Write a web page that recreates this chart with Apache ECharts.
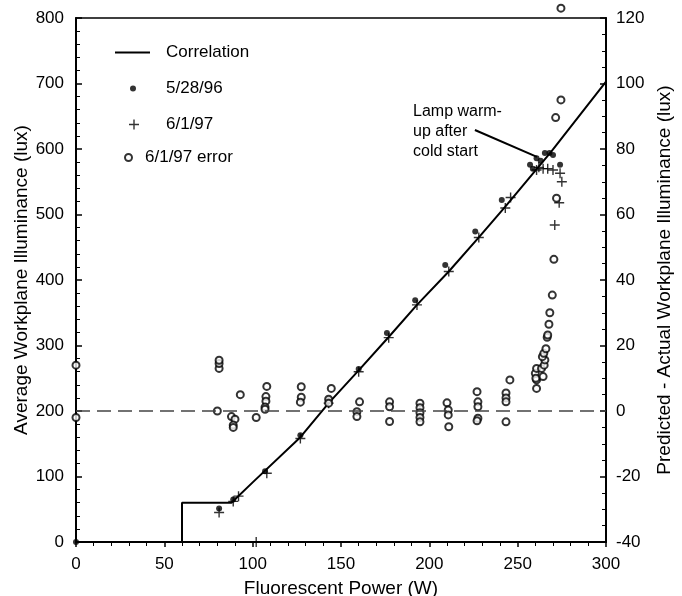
<!DOCTYPE html>
<html>
<head>
<meta charset="utf-8">
<script src="https://cdn.jsdelivr.net/npm/echarts@6/dist/echarts.min.js"></script>
<style>
  html, body { margin: 0; padding: 0; background: #fff; }
  #container { width: 682px; height: 596px; }
</style>
</head>
<body>
<div id="container"></div>
<script>
// correlation curve (W, lux)
const corrPower = [0, 60, 60, 88, 100, 127, 143, 160, 177, 193, 211, 228, 243, 269, 300];
const corrLux   = [0, 0, 60, 60, 91, 160, 212, 262, 313, 362, 413, 465, 512, 596, 703];

// 5/28/96 measurements
const dotPower = [0, 81, 89, 107, 127, 143, 160, 176, 192, 209, 226, 241, 257, 258.6, 260.7, 263, 265.4, 268, 270, 274];
const dotLux   = [0, 51, 65, 108, 163, 218, 264, 319, 369, 423, 474, 522, 576, 570, 586, 582, 594, 594, 591, 576];

// 6/1/97 measurements
const plusPower = [102, 81, 89, 92, 108, 127, 143, 160, 177, 193, 211, 228, 243, 246, 260.7, 262, 264.4, 267, 270, 274, 275, 273.5, 271];
const plusLux   = [0, 45, 62, 70, 105, 158, 212, 260, 312, 362, 413, 465, 510, 526, 568, 572, 570, 570, 568, 563, 550, 518, 484];

// 6/1/97 error (predicted - actual, lux)
const errPower = [0, 0, 80, 81, 81, 81, 88, 90, 89, 89, 93, 102,
  108, 107.5, 107.5, 107, 107, 127.5, 127.5, 127, 144.5, 143, 143,
  160.5, 159, 159, 177.5, 177.5, 177.5, 194.7, 194.7, 194.7, 194.7, 194.7,
  210, 210.7, 210.7, 211, 227, 227.5, 227.5, 227.5, 227, 243.4, 243.4, 243.4, 243.4,
  245.6, 260.7, 260.7, 260, 260.3, 260.7, 263.5, 264.4, 265, 265.4, 264, 264.8,
  266, 266.7, 267, 267.7, 268.2, 269.6, 270.5, 272, 271.5, 274.5, 274.5];
const errValue = [14, -2, 0, 13, 14.5, 15.5, -1.7, -2.5, -4.3, -5, 5, -2,
  7.5, 4.4, 3, 1.2, 0.5, 7.4, 4.2, 2.7, 6.9, 3.6, 2.4,
  2.8, -0.2, -1.7, 2.8, 1.3, -3.2, 2.4, 1, -0.5, -2, -3.3,
  2.5, 0.3, -1.2, -4.8, 5.9, 2.8, 1.3, -2.2, -3, 5.5, 4, 2.8, -3.3,
  9.5, 9.5, 6.9, 11.5, 10, 13, 13, 10.5, 14, 15.6, 16.6, 17.6,
  19, 22.5, 23.2, 26.5, 30, 35.4, 46.3, 65, 89.6, 95, 123];

const zip = (xs, ys) => xs.map((x, i) => [x, ys[i]]);

const font = '"Liberation Sans", Arial, Helvetica, sans-serif';
const plusIcon = 'path://M4.3,0H5.7V4.3H10V5.7H5.7V10H4.3V5.7H0V4.3H4.3Z';

var dom = document.getElementById('container');
var myChart = echarts.init(dom, null, { renderer: 'canvas' });

const legendText = (pad) => ({ fontSize: 17, color: '#000', fontFamily: font, padding: [0, 0, 0, pad] });

const option = {
  animation: false,
  textStyle: { fontFamily: font },
  grid: {
    left: 76, right: 76, top: 18, bottom: 54, outerBoundsMode: 'none', containLabel: false,
    show: true, borderColor: '#000', borderWidth: 1.5
  },
  legend: [
    { data: [{ name: 'Correlation', icon: 'rect' }], left: 115, top: 44, padding: 0, itemWidth: 35, itemHeight: 2, textStyle: legendText(11) },
    { data: ['5/28/96'], left: 130, top: 80, padding: 0, itemWidth: 6, itemHeight: 6, textStyle: legendText(25) },
    { data: ['6/1/97'], left: 129, top: 116, padding: 0, itemWidth: 10, itemHeight: 10, textStyle: legendText(22) },
    { data: ['6/1/97 error'], left: 124, top: 149, padding: 0, itemWidth: 7, itemHeight: 7, textStyle: legendText(8) }
  ],
  xAxis: {
    type: 'value', min: 0, max: 300, interval: 50,
    name: 'Fluorescent Power (W)', nameLocation: 'middle', nameGap: 37,
    nameTextStyle: { fontSize: 19, color: '#000' },
    axisLine: { lineStyle: { color: '#000', width: 2 } },
    axisTick: { inside: false, length: 5, lineStyle: { color: '#000', width: 1.5 } },
    minorTick: { show: true, splitNumber: 5, length: 4, lineStyle: { color: '#000' } },
    axisLabel: { fontSize: 17, color: '#000', margin: 14 },
    splitLine: { show: false }
  },
  yAxis: [
    {
      type: 'value', min: 0, max: 800, interval: 100,
      name: 'Average Workplane Illuminance (lux)', nameLocation: 'middle', nameGap: 45,
      nameMoveOverlap: false,
      nameTextStyle: { fontSize: 19, color: '#000' },
      axisLine: { show: true, lineStyle: { color: '#000', width: 2 } },
      axisTick: { inside: true, length: 6, lineStyle: { color: '#000', width: 1.5 } },
      minorTick: { show: true, splitNumber: 5, length: 4, lineStyle: { color: '#000' } },
      axisLabel: { fontSize: 17, color: '#000', margin: 12 },
      splitLine: { show: false }
    },
    {
      type: 'value', min: -40, max: 120, interval: 20, position: 'right',
      name: 'Predicted - Actual Workplane Illuminance (lux)', nameLocation: 'middle', nameGap: 47,
      nameRotate: 90,
      nameTextStyle: { fontSize: 19, color: '#000' },
      axisLine: { show: true, lineStyle: { color: '#000', width: 2 } },
      axisTick: { inside: true, length: 6, lineStyle: { color: '#000', width: 1.5 } },
      minorTick: { show: true, splitNumber: 4, length: 4, lineStyle: { color: '#000' } },
      axisLabel: { fontSize: 17, color: '#000', margin: 10 },
      splitLine: { show: false }
    }
  ],
  graphic: [
    {
      type: 'text', left: 413, top: 102,
      style: { text: 'Lamp warm-\nup after\ncold start', font: '16px ' + font, fill: '#000', lineHeight: 20 }
    }
  ],
  series: [
    {
      name: 'Correlation', type: 'line', data: zip(corrPower, corrLux),
      showSymbol: false, symbol: 'none', color: '#000',
      lineStyle: { color: '#000', width: 2 }, z: 3,
      markLine: {
        silent: true, symbol: 'none', label: { show: false },
        lineStyle: { color: '#000', width: 2, type: 'solid' },
        data: [[{ coord: [225.8, 629] }, { coord: [260.9, 588] }]]
      }
    },
    {
      name: '5/28/96', type: 'scatter', data: zip(dotPower, dotLux),
      symbol: 'circle', symbolSize: 6, itemStyle: { color: '#000' }, z: 4
    },
    {
      name: '6/1/97', type: 'scatter', data: zip(plusPower, plusLux),
      symbol: plusIcon, symbolSize: 10, itemStyle: { color: '#000' }, z: 4
    },
    {
      name: '6/1/97 error', type: 'scatter', yAxisIndex: 1, data: zip(errPower, errValue),
      symbol: 'emptyCircle', symbolSize: 7, clip: false,
      itemStyle: { color: '#000', borderColor: '#000', borderWidth: 1.5 }, z: 4,
      markLine: {
        silent: true, symbol: 'none', label: { show: false },
        lineStyle: { color: '#444', width: 1.5, type: [14, 7] },
        data: [{ yAxis: 0 }]
      }
    }
  ]
};

myChart.setOption(option);
</script>
</body>
</html>
